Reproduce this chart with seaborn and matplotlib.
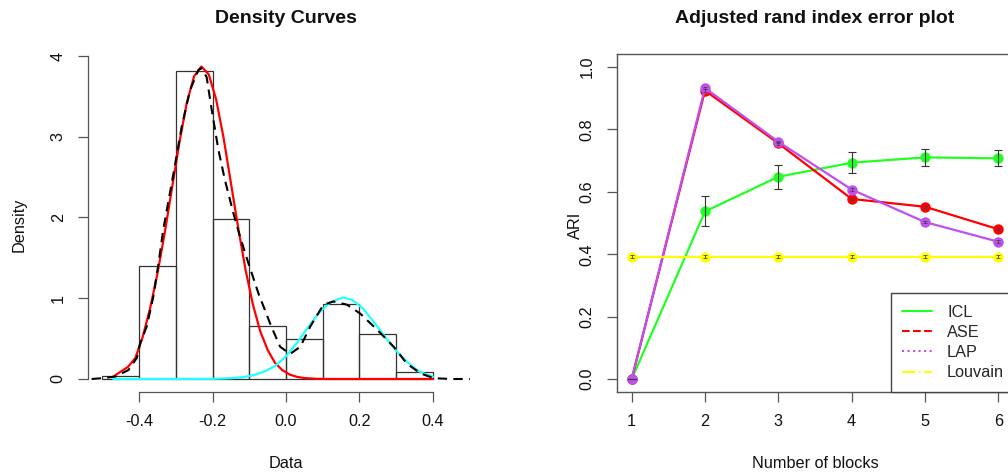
import numpy as np
import matplotlib
matplotlib.use('Agg')
import matplotlib.pyplot as plt
import seaborn as sns
from matplotlib.lines import Line2D

# ---------------- Left panel data ----------------
hist_edges = [-0.5, -0.4, -0.3, -0.2, -0.1, 0.0, 0.1, 0.2, 0.3, 0.4]
hist_density = [0.041, 1.403, 3.814, 1.978, 0.660, 0.490, 0.933, 0.553, 0.083]

kde_x = [-0.529, -0.50, -0.465, -0.429, -0.406, -0.397, -0.379, -0.361, -0.347, -0.334,
         -0.306, -0.284, -0.261, -0.238, -0.231, -0.216, -0.202, -0.184, -0.166, -0.143,
         -0.125, -0.102, -0.075, -0.040, -0.016, 0.011, 0.039, 0.066, 0.102, 0.129,
         0.166, 0.202, 0.248, 0.293, 0.329, 0.366, 0.402, 0.45, 0.50]
kde_y = [0.0, 0.01, 0.03, 0.11, 0.26, 0.44, 0.65, 1.02, 1.43, 1.85,
         2.55, 3.12, 3.58, 3.83, 3.85, 3.74, 3.33, 2.84, 2.46, 2.05,
         1.76, 1.43, 1.06, 0.65, 0.40, 0.31, 0.40, 0.65, 0.92, 0.96,
         0.92, 0.81, 0.61, 0.40, 0.19, 0.07, 0.01, 0.0, 0.0]

red_x = [-0.47, -0.45, -0.43, -0.41, -0.39, -0.37, -0.35, -0.33, -0.31, -0.29,
         -0.27, -0.25, -0.23, -0.21, -0.19, -0.17, -0.15, -0.13, -0.11, -0.09,
         -0.07, -0.05, -0.03, -0.01, 0.01, 0.03, 0.05, 0.08, 0.12, 0.40]
red_y = [0.03, 0.09, 0.15, 0.26, 0.52, 0.87, 1.30, 1.81, 2.37, 2.93,
         3.42, 3.75, 3.87, 3.77, 3.46, 2.99, 2.43, 1.87, 1.35, 0.92,
         0.59, 0.36, 0.20, 0.11, 0.055, 0.026, 0.012, 0.003, 0.0, 0.0]

cyan_x = [-0.47, -0.20, -0.15, -0.12, -0.09, -0.06, -0.03, 0.00, 0.03, 0.06,
          0.09, 0.12, 0.155, 0.18, 0.21, 0.24, 0.27, 0.30, 0.33, 0.36, 0.38, 0.40]
cyan_y = [0.0, 0.002, 0.01, 0.02, 0.045, 0.09, 0.16, 0.28, 0.45, 0.64,
          0.82, 0.95, 1.01, 0.98, 0.87, 0.70, 0.52, 0.35, 0.21, 0.10, 0.06, 0.03]

# ---------------- Right panel data ----------------
blocks = [1, 2, 3, 4, 5, 6]
icl = [0.0, 0.537, 0.648, 0.693, 0.710, 0.707]
icl_err = [0.0, 0.048, 0.039, 0.033, 0.028, 0.026]
ase = [0.0, 0.924, 0.755, 0.577, 0.552, 0.480]
ase_err = [0.0, 0.004, 0.004, 0.004, 0.004, 0.004]
lap = [0.0, 0.932, 0.760, 0.607, 0.503, 0.440]
lap_err = [0.0, 0.004, 0.004, 0.004, 0.004, 0.004]
louvain = [0.392, 0.392, 0.392, 0.392, 0.392, 0.392]
louvain_err = [0.004, 0.004, 0.004, 0.004, 0.004, 0.004]

series_names = ['ICL', 'ASE', 'LAP', 'Louvain']
series_colors = ['#22FF22', '#FF0000', '#BF4FEF', '#FFFF00']
legend_styles = ['-', '--', ':', '-.']

x_ticks_left = [-0.4, -0.2, 0.0, 0.2, 0.4]
x_ticklabels_left = ['-0.4', '-0.2', '0.0', '0.2', '0.4']
y_ticks_left = [0, 1, 2, 3, 4]
y_ticks_right = [0.0, 0.2, 0.4, 0.6, 0.8, 1.0]
y_ticklabels_right = ['0.0', '0.2', '0.4', '0.6', '0.8', '1.0']

# ---------------- Styling ----------------
sns.set_theme(style='white')
plt.rcParams['font.family'] = ['Liberation Sans', 'DejaVu Sans']
plt.rcParams['axes.unicode_minus'] = False

W, H = 1008, 474
fig = plt.figure(figsize=(W / 100, H / 100), dpi=100)
fig.patch.set_facecolor('white')


def px_axes(l, t, r, b):
    return fig.add_axes([l / W, 1 - b / H, (r - l) / W, (b - t) / H])


AXC = '#555555'
FS = 11.7

ax1 = px_axes(88, 54.3, 484, 392)
ax2 = px_axes(617, 54.3, 1013, 391.7)

# ---- Left: histogram + density curves ----
centers = [(a + b) / 2 for a, b in zip(hist_edges[:-1], hist_edges[1:])]
sns.histplot(x=centers, weights=hist_density, bins=hist_edges, stat='count',
             fill=False, color='#333333', linewidth=0.9, ax=ax1)
sns.lineplot(x=red_x, y=red_y, color='#FF0000', linewidth=1.6, ax=ax1)
sns.lineplot(x=cyan_x, y=cyan_y, color='#22FFFF', linewidth=1.6, ax=ax1)
sns.lineplot(x=kde_x, y=kde_y, color='black', linewidth=1.5, linestyle='--', ax=ax1)
ax1.lines[-1].set_dashes((4.5, 3))

ax1.set_xlim(-0.5388, 0.5388)
ax1.set_ylim(-0.161, 4.021)
ax1.set_xlabel('')
ax1.set_ylabel('')
for s in ['top', 'right']:
    ax1.spines[s].set_visible(False)
ax1.spines['left'].set_bounds(0, 4)
ax1.spines['bottom'].set_bounds(-0.4, 0.4)
for s in ['left', 'bottom']:
    ax1.spines[s].set_color(AXC)
    ax1.spines[s].set_linewidth(0.9)
ax1.set_xticks(x_ticks_left)
ax1.set_xticklabels(x_ticklabels_left)
ax1.set_yticks(y_ticks_left)
ax1.set_yticklabels([str(v) for v in y_ticks_left])

# ---- Right: ARI error plot ----
vals = [icl, ase, lap, louvain]
errs = [icl_err, ase_err, lap_err, louvain_err]
for v, c in zip(vals, series_colors):
    sns.lineplot(x=blocks, y=v, color=c, linewidth=1.6, marker='o', markersize=7.5,
                 markeredgewidth=0, ax=ax2)
for i, (v, e) in enumerate(zip(vals, errs)):
    big = (i == 0)
    ax2.errorbar(blocks, v, yerr=e, fmt='none',
                 ecolor='#333333' if big else '#444444',
                 elinewidth=0.8 if big else 0.6,
                 capsize=3 if big else 1.6,
                 capthick=0.8 if big else 0.6, zorder=6)

ax2.set_xlim(0.8, 6.2)
ax2.set_ylim(-0.04, 1.04)
ax2.set_xlabel('')
ax2.set_ylabel('')
for s in ax2.spines.values():
    s.set_visible(True)
    s.set_color(AXC)
    s.set_linewidth(1.0)
ax2.set_xticks(blocks)
ax2.set_xticklabels([str(b) for b in blocks])
ax2.set_yticks(y_ticks_right)
ax2.set_yticklabels(y_ticklabels_right)

handles = [Line2D([0], [0], color=c, lw=1.5, ls=s) for c, s in zip(series_colors, legend_styles)]
leg = ax2.legend(handles, series_names, loc='lower left',
                 bbox_to_anchor=((891 - 617) / 396, 0), bbox_transform=ax2.transAxes,
                 borderaxespad=0, frameon=True, fancybox=False, framealpha=1,
                 edgecolor='#444444', fontsize=FS, handlelength=1.85,
                 handletextpad=0.9, labelspacing=0.32, borderpad=0.7)
leg.get_frame().set_linewidth(1.0)

for ax in (ax1, ax2):
    ax.set_facecolor('white')
    ax.grid(False)
    ax.tick_params(axis='both', direction='out', length=7, width=0.9, color=AXC,
                   labelsize=FS, labelcolor='#111111', left=True, bottom=True)
    ax.tick_params(axis='x', pad=9)
    ax.tick_params(axis='y', pad=9, labelrotation=90)
    for lbl in ax.get_yticklabels():
        lbl.set_va('center')

# ---- Titles and axis labels ----
fig.text(286 / W, 1 - 23.3 / H, 'Density Curves', ha='center', va='baseline',
         fontsize=14, fontweight='bold', color='#111111')
fig.text(815 / W, 1 - 23.3 / H, 'Adjusted rand index error plot', ha='center', va='baseline',
         fontsize=14, fontweight='bold', color='#111111')
fig.text(286 / W, 1 - 468 / H, 'Data', ha='center', va='baseline', fontsize=FS, color='#111111')
fig.text(815 / W, 1 - 468 / H, 'Number of blocks', ha='center', va='baseline', fontsize=FS,
         color='#111111')
fig.text(19.5 / W, 1 - 225 / H, 'Density', ha='center', va='center', rotation=90,
         fontsize=FS, color='#111111')
fig.text(575 / W, 1 - 225 / H, 'ARI', ha='center', va='center', rotation=90,
         fontsize=FS, color='#111111')

fig.savefig('out.png', dpi=100, facecolor='white')
